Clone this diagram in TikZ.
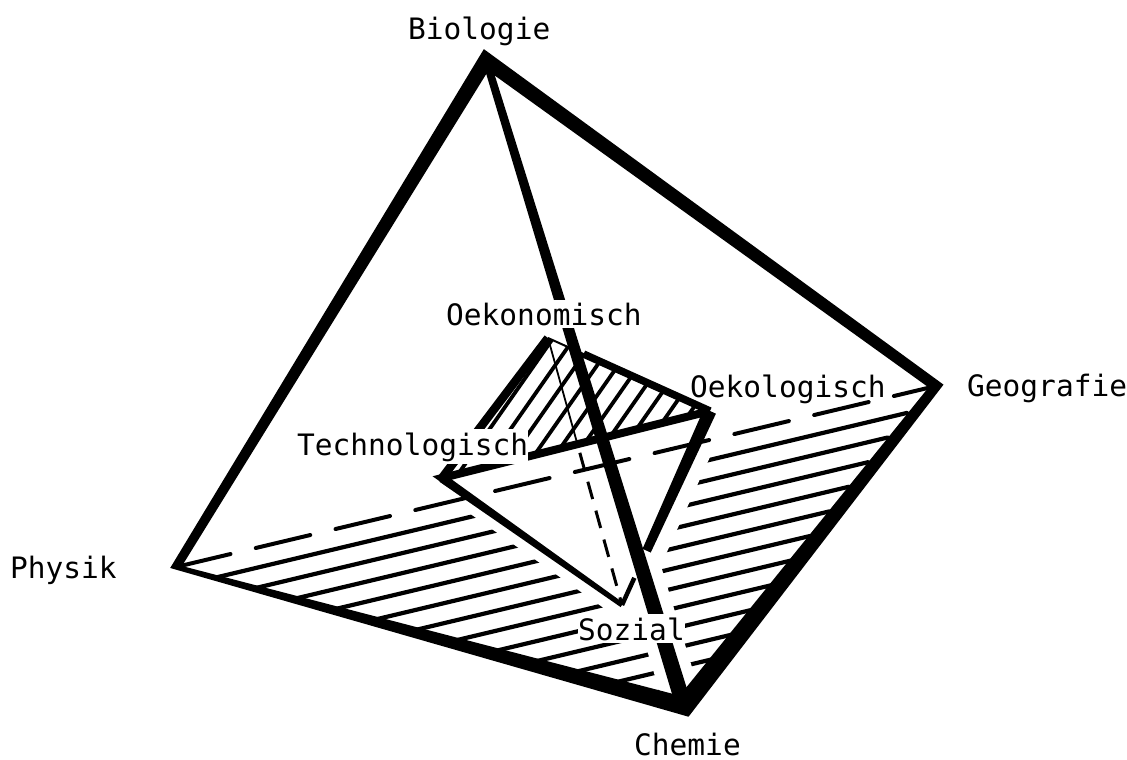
\documentclass[tikz,border=0pt]{standalone}
\usepackage{fontspec}
\newfontfamily\labfont{DejaVu Sans Mono}
\usetikzlibrary{calc}
\newcommand\taper[4]{\fill ($(#1)!#3!90:(#2)$) -- ($(#2)!#4!-90:(#1)$) -- ($(#2)!#4!90:(#1)$) -- ($(#1)!#3!-90:(#2)$) -- cycle;}
\newcommand\edgeoff[5]{%
 \coordinate (#1o1) at ($(#2)!#4!-90:(#3)$);
 \coordinate (#1o2) at ($(#3)!#5!90:(#2)$);
 \coordinate (#1i1) at ($(#2)!#4!90:(#3)$);
 \coordinate (#1i2) at ($(#3)!#5!-90:(#2)$);}
\begin{document}
\begin{tikzpicture}[x=1pt,y=-1pt,
  lab/.style={font=\labfont\fontsize{29.5}{32}\selectfont, inner sep=0pt, anchor=base west},
  labw/.style={lab, fill=white, inner ysep=3pt},
  hatch/.style={line width=4.2pt, line cap=round},
  fhatch/.style={line width=3.8pt, line cap=round}]
\useasboundingbox (0,0) rectangle (1127,760);
% outer tetrahedron
\coordinate (B) at (486,60);
\coordinate (P) at (176,567);
\coordinate (C) at (684,706);
\coordinate (G) at (936,386);
% inner tetrahedron
\coordinate (O) at (548,338);
\coordinate (T) at (442,478);
\coordinate (K) at (710,411);
\coordinate (S) at (622,605);

% base hatching
\begin{scope}
\clip (P) -- (C) -- (G) -- cycle;
\foreach \k in {1,...,12}{\draw[hatch, shorten >=10pt] ($(P)!\k/13!(C)$) -- ($(G)!\k/13!(C)$);}
\end{scope}
% gaps around inner tetrahedron and front edge
\fill[white] (T) -- (K) -- (S) -- cycle;
\draw[white, line width=26pt, line cap=round] (T) -- (S);
\draw[white, line width=38pt, line cap=round] (K) -- (S);
\draw[white, line width=38pt] ($(B)!0.72!(C)$) -- (C);
% hidden back edge
\draw[line width=4pt, line cap=round, dash pattern=on 56pt off 26pt] (P) -- (G);

% face hatching O-T-K
\begin{scope}
\clip (O) -- (T) -- (K) -- cycle;
\foreach \x in {300,321,...,740}{\draw[fhatch] (\x,520) -- ++(172,-246);}
\end{scope}

% hidden edge O-S
\coordinate (X) at ($(O)!0.394!(S)$);
\draw[line width=1.8pt] (O) -- (X);
\draw[line width=3pt, dash pattern=on 18pt off 12pt] ($(O)!0.43!(S)$) -- (S);

% inner edges
\draw[line width=8pt, line join=miter] (K) -- (T) -- ($(T)!0.06!(S)$);
\taper{T}{S}{4.5pt}{2.5pt}
\draw[line width=8.5pt] (O) -- (T);
\draw[line width=2pt] (O) -- ($(O)!0.22!(K)$);
\draw[line width=7.5pt] ($(O)!0.22!(K)$) -- (K);
\coordinate (KSa) at ($(K)!0.72!(S)$);
\taper{K}{KSa}{6.5pt}{4.5pt}
\draw[line width=4.5pt] ($(K)!0.86!(S)$) -- (S);

% outer ring with mitred corners
\edgeoff{pc}{P}{C}{2.5pt}{9pt}
\edgeoff{cg}{C}{G}{10pt}{5pt}
\edgeoff{gb}{G}{B}{5.5pt}{7.5pt}
\edgeoff{bp}{B}{P}{7.5pt}{4.5pt}
\coordinate (oC) at (intersection of pco1--pco2 and cgo1--cgo2);
\coordinate (oG) at (intersection of cgo1--cgo2 and gbo1--gbo2);
\coordinate (oB) at (intersection of gbo1--gbo2 and bpo1--bpo2);
\coordinate (oP) at (intersection of bpo1--bpo2 and pco1--pco2);
\coordinate (iC) at (intersection of pci1--pci2 and cgi1--cgi2);
\coordinate (iG) at (intersection of cgi1--cgi2 and gbi1--gbi2);
\coordinate (iB) at (intersection of gbi1--gbi2 and bpi1--bpi2);
\coordinate (iP) at (intersection of bpi1--bpi2 and pci1--pci2);
\fill[even odd rule] (oP) -- (oC) -- (oG) -- (oB) -- cycle (iP) -- (iC) -- (iG) -- (iB) -- cycle;
% front edge B-C
\taper{B}{C}{3.8pt}{8pt}

% labels
\node[lab] (biologie) at (408,40) {Biologie};
\node[lab] (geografie) at (967,396) {Geografie};
\node[lab] (physik) at (10,578) {Physik};
\node[lab] (chemie) at (634,755) {Chemie};
\node[labw] (oekonomisch) at (446,325) {Oekonomisch};
\node[lab] (oekologisch) at (690,397) {Oekologisch};
\node[labw] (technologisch) at (297,455) {Technologisch};
\node[labw] (sozial) at (578,640) {Sozial};
\end{tikzpicture}
\end{document}
